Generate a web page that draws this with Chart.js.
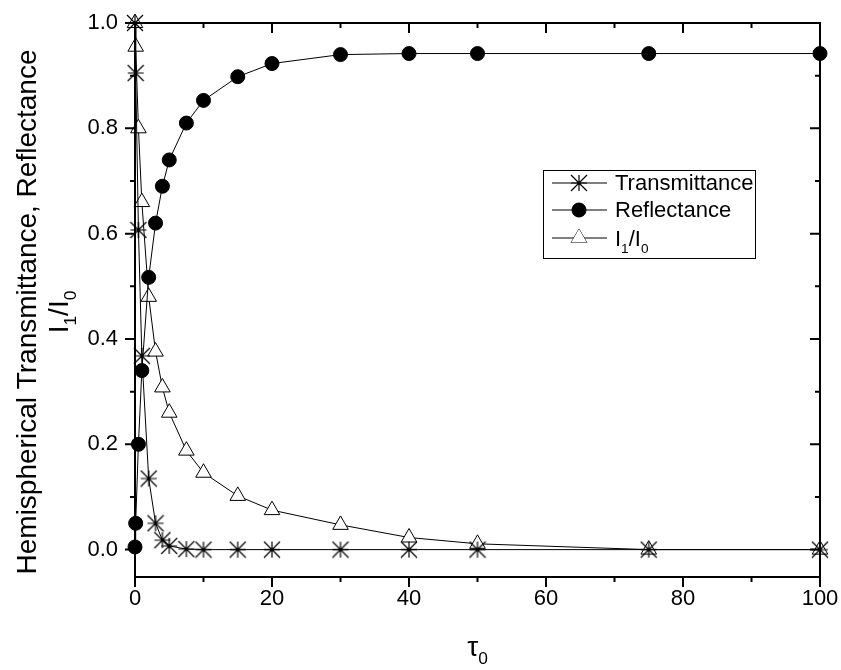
<!DOCTYPE html>
<html>
<head>
<meta charset="utf-8">
<script src="https://cdn.jsdelivr.net/npm/chart.js@4"></script>
<style>
  body { margin: 0; background: #fff; }
  canvas { display: block; }
</style>
</head>
<body>
<canvas id="opticsChart" width="841" height="670"></canvas>
<script>
// optical depth values (x)
const tau = [0, 0.1, 0.5, 1, 2, 3, 4, 5, 7.5, 10, 15, 20, 30, 40, 50, 75, 100];

const transmittance = [1.0, 0.905, 0.607, 0.368, 0.135, 0.05, 0.018, 0.007, 0.001, 0, 0, 0, 0, 0, 0, 0, 0];
const reflectance = [0.005, 0.05, 0.2, 0.34, 0.517, 0.62, 0.69, 0.74, 0.81, 0.853, 0.898, 0.923, 0.94, 0.942, 0.942, 0.942, 0.942];
const intensityRatio = [1.0, 0.955, 0.8, 0.66, 0.48, 0.376, 0.308, 0.26, 0.188, 0.146, 0.102, 0.075, 0.047, 0.023, 0.011, 0, 0];

const xTicks = [0, 20, 40, 60, 80, 100];
const xMinor = [10, 30, 50, 70, 90];
const yTicks = [0, 0.2, 0.4, 0.6, 0.8, 1.0];
const yMinor = [0.1, 0.3, 0.5, 0.7, 0.9];

const FONT = "'Liberation Sans', Arial, sans-serif";

// Origin style asterisk: + and x with diagonals to the corners
function makeAsterisk(r) {
  const size = Math.ceil(r * 2 + 2);
  const c = document.createElement('canvas');
  c.width = size;
  c.height = size;
  const g = c.getContext('2d');
  g.strokeStyle = '#000';
  g.lineWidth = 1.2;
  const m = size / 2;
  g.beginPath();
  g.moveTo(m, m - r); g.lineTo(m, m + r);
  g.moveTo(m - r, m); g.lineTo(m + r, m);
  g.moveTo(m - r, m - r); g.lineTo(m + r, m + r);
  g.moveTo(m - r, m + r); g.lineTo(m + r, m - r);
  g.stroke();
  return c;
}
const asterisk = makeAsterisk(8);

function toPoints(ys) {
  return tau.map((t, i) => ({ x: t, y: ys[i] }));
}

// text with subscript parts, drawn left to right from x
function measureParts(ctx, parts, size) {
  let w = 0;
  parts.forEach(p => {
    ctx.font = (p.sub ? size * 0.62 : size) + 'px ' + FONT;
    w += ctx.measureText(p.t).width;
  });
  return w;
}
function drawParts(ctx, parts, x, y, size) {
  ctx.textBaseline = 'alphabetic';
  ctx.textAlign = 'left';
  parts.forEach(p => {
    const s = p.sub ? size * 0.62 : size;
    ctx.font = s + 'px ' + FONT;
    ctx.fillText(p.t, x, p.sub ? y + size * 0.3 : y);
    x += ctx.measureText(p.t).width;
  });
}
const ratioLabel = [{ t: 'I' }, { t: '1', sub: true }, { t: '/I' }, { t: '0', sub: true }];

const framePlugin = {
  id: 'frame',
  afterDraw(chart) {
    const ctx = chart.ctx;
    const a = chart.chartArea;
    const xs = chart.scales.x;
    const ys = chart.scales.y;
    ctx.save();
    ctx.strokeStyle = '#000';
    ctx.lineWidth = 2;
    ctx.strokeRect(a.left, a.top, a.right - a.left, a.bottom - a.top);

    const tick = (vals, len) => {
      vals.forEach(v => {
        const px = xs.getPixelForValue(v);
        ctx.beginPath();
        ctx.moveTo(px, a.bottom); ctx.lineTo(px, a.bottom + len);
        ctx.moveTo(px, a.top); ctx.lineTo(px, a.top + len);
        ctx.stroke();
      });
    };
    const tickY = (vals, len) => {
      vals.forEach(v => {
        const py = ys.getPixelForValue(v);
        ctx.beginPath();
        ctx.moveTo(a.left, py); ctx.lineTo(a.left - len, py);
        ctx.moveTo(a.right, py); ctx.lineTo(a.right - len, py);
        ctx.stroke();
      });
    };
    tick(xTicks, 10);
    tick(xMinor, 5);
    tickY(yTicks, 10);
    tickY(yMinor, 5);

    // axis titles
    ctx.fillStyle = '#000';
    const tSize = 28;
    const tw = measureParts(ctx, [{ t: 'τ' }, { t: '0', sub: true }], tSize);
    drawParts(ctx, [{ t: 'τ' }, { t: '0', sub: true }], (a.left + a.right) / 2 - tw / 2, 656, tSize);

    ctx.save();
    ctx.translate(0, 312);
    ctx.rotate(-Math.PI / 2);
    ctx.font = tSize + 'px ' + FONT;
    ctx.textAlign = 'center';
    ctx.textBaseline = 'alphabetic';
    ctx.fillText('Hemispherical Transmittance, Reflectance', 0, 36);
    const rw = measureParts(ctx, ratioLabel, tSize);
    drawParts(ctx, ratioLabel, -rw / 2, 68, tSize);
    ctx.restore();

    // legend
    const box = { l: 543, t: 170, r: 755, b: 258 };
    ctx.lineWidth = 1;
    ctx.strokeRect(box.l + 0.5, box.t + 0.5, box.r - box.l, box.b - box.t);
    const rows = [183, 210, 238];
    chart.data.datasets.forEach((ds, i) => {
      const y = rows[i];
      ctx.beginPath();
      ctx.moveTo(552, y); ctx.lineTo(607, y);
      ctx.stroke();
      ctx.fillStyle = ds.pointBackgroundColor;
      Chart.helpers.drawPoint(ctx, {
        pointStyle: ds.pointStyle,
        radius: ds.pointRadius,
        borderWidth: 1,
        rotation: 0
      }, 579, y);
      if (ds.pointStyle !== asterisk) {
        ctx.fill();
      }
      ctx.fillStyle = '#000';
      if (i === 2) {
        drawParts(ctx, ratioLabel, 615, y + 8, 22);
      } else {
        ctx.font = '22px ' + FONT;
        ctx.textAlign = 'left';
        ctx.textBaseline = 'middle';
        ctx.fillText(ds.label, 615, y + 1);
      }
    });
    ctx.restore();
  }
};

// invisible tick marks reserve the gap between axis and labels
const hiddenGrid = {
  display: true,
  drawOnChartArea: false,
  drawTicks: true,
  tickLength: 9,
  color: 'rgba(0,0,0,0)'
};

new Chart(document.getElementById('opticsChart'), {
  type: 'line',
  data: {
    datasets: [
      {
        label: 'Transmittance',
        data: toPoints(transmittance),
        borderColor: '#000',
        borderWidth: 1,
        pointStyle: asterisk,
        pointRadius: 8,
        pointBackgroundColor: '#000',
        pointBorderColor: '#000',
        clip: false
      },
      {
        label: 'Reflectance',
        data: toPoints(reflectance),
        borderColor: '#000',
        borderWidth: 1,
        pointStyle: 'circle',
        pointRadius: 7,
        pointBackgroundColor: '#000',
        pointBorderColor: '#000',
        clip: false
      },
      {
        label: 'I1/I0',
        data: toPoints(intensityRatio),
        borderColor: '#000',
        borderWidth: 1,
        pointStyle: 'triangle',
        pointRadius: 9,
        pointBackgroundColor: '#fff',
        pointBorderColor: '#000',
        pointBorderWidth: 1,
        clip: false
      }
    ]
  },
  options: {
    responsive: false,
    animation: false,
    layout: { padding: { top: 23, right: 21, left: 0, bottom: 0 } },
    plugins: {
      legend: { display: false },
      tooltip: { enabled: false }
    },
    scales: {
      x: {
        type: 'linear',
        min: 0,
        max: 100,
        afterBuildTicks: s => { s.ticks = xTicks.map(v => ({ value: v })); },
        afterFit: s => { s.height = 93; },
        grid: hiddenGrid,
        border: { display: false },
        ticks: {
          color: '#000',
          font: { family: FONT, size: 22 },
          padding: 0,
          maxRotation: 0,
          callback: v => String(v)
        }
      },
      y: {
        min: -0.052,
        max: 1.0,
        afterBuildTicks: s => { s.ticks = yTicks.map(v => ({ value: v })); },
        afterFit: s => { s.width = 135; },
        grid: hiddenGrid,
        border: { display: false },
        ticks: {
          color: '#000',
          font: { family: FONT, size: 22 },
          padding: 8,
          callback: v => v.toFixed(1)
        }
      }
    }
  },
  plugins: [framePlugin]
});
</script>
</body>
</html>
